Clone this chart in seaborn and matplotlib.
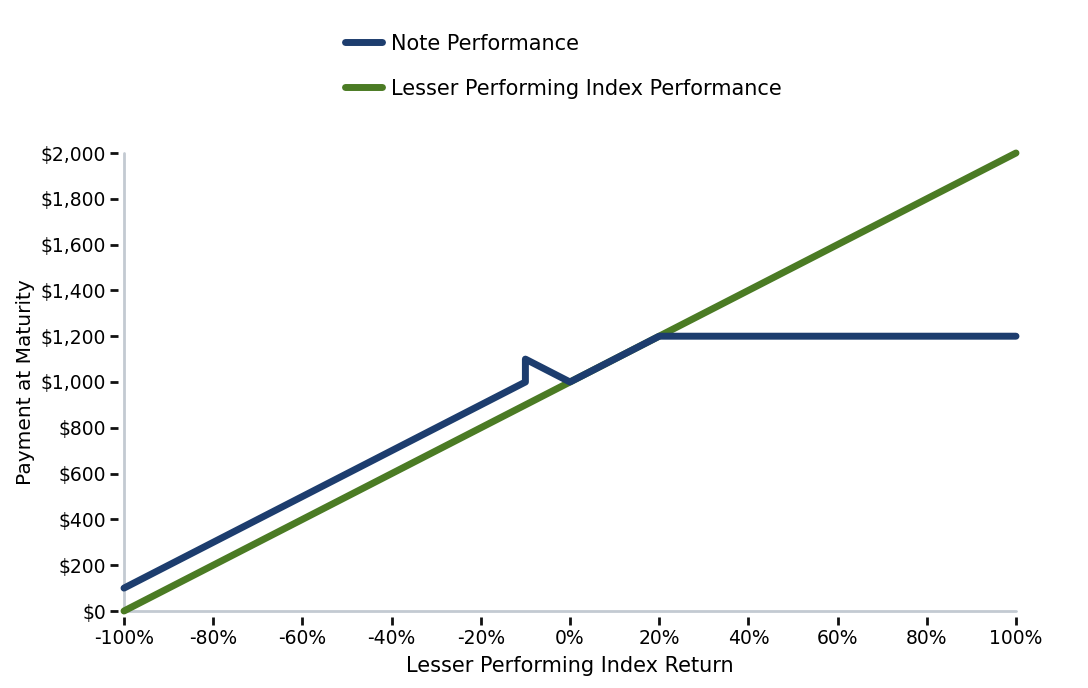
import pandas as pd
import matplotlib.pyplot as plt
import seaborn as sns

# values
index_return = [-100, -10, -10, 0, 20, 100]
note_payment = [100, 1000, 1100, 1000, 1200, 1200]
index_x = [-100, 100]
index_payment = [0, 2000]

x_ticks = [-100, -80, -60, -40, -20, 0, 20, 40, 60, 80, 100]
y_ticks = [0, 200, 400, 600, 800, 1000, 1200, 1400, 1600, 1800, 2000]

blue = '#1d3d6e'
green = '#4b7b24'
spine_color = '#c3cad2'

sns.set_style('white')
plt.rcParams['font.family'] = ['DejaVu Sans']
plt.rcParams['text.color'] = 'black'
plt.rcParams['axes.labelcolor'] = 'black'
plt.rcParams['xtick.color'] = 'black'
plt.rcParams['ytick.color'] = 'black'

note_df = pd.DataFrame({'ret': index_return, 'pay': note_payment})
idx_df = pd.DataFrame({'ret': index_x, 'pay': index_payment})

fig = plt.figure(figsize=(10.88, 6.88), dpi=100)
ax = fig.add_axes([124 / 1088, 1 - 611 / 688, 892 / 1088, 458 / 688])

sns.lineplot(data=idx_df, x='ret', y='pay', ax=ax, color=green, linewidth=5,
             sort=False, estimator=None, label='Lesser Performing Index Performance',
             solid_capstyle='round', solid_joinstyle='round', clip_on=False, zorder=3)
sns.lineplot(data=note_df, x='ret', y='pay', ax=ax, color=blue, linewidth=5,
             sort=False, estimator=None, label='Note Performance',
             solid_capstyle='round', solid_joinstyle='round', clip_on=False, zorder=4)

ax.set_xlim(-100, 100)
ax.set_ylim(0, 2000)

# spines: invisible ones pushed out carry the ticks, visible ones drawn at the data edge
for s in ['top', 'right']:
    ax.spines[s].set_visible(False)
for s in ['left', 'bottom']:
    ax.spines[s].set_position(('outward', 4))
    ax.spines[s].set_visible(False)
ax.axvline(-100, color=spine_color, linewidth=2, zorder=1, clip_on=False)
ax.axhline(0, color=spine_color, linewidth=2, zorder=1, clip_on=False)

ax.set_xticks(x_ticks)
ax.set_xticklabels([f'{t}%' for t in x_ticks])
ax.set_yticks(y_ticks)
ax.set_yticklabels([f'${t:,}' for t in y_ticks])
ax.tick_params(axis='both', which='major', direction='out', length=6, width=2,
               color='#111111', labelsize=13.5, pad=3, left=True, bottom=True)

ax.set_xlabel('Lesser Performing Index Return', fontsize=15, labelpad=6)
ax.set_ylabel('Payment at Maturity', fontsize=14.5, labelpad=4)

handles, labels = ax.get_legend_handles_labels()
ax.get_legend().remove()
leg = fig.legend(handles[::-1], labels[::-1], loc='upper left',
                 bbox_to_anchor=(326 / 1088, 1 - 15 / 688), frameon=False,
                 fontsize=15, handlelength=1.8, labelspacing=1.2, handletextpad=0.4)
for line in leg.get_lines():
    line.set_linewidth(5)
    line.set_solid_capstyle('round')

fig.savefig('out.png', dpi=100)
